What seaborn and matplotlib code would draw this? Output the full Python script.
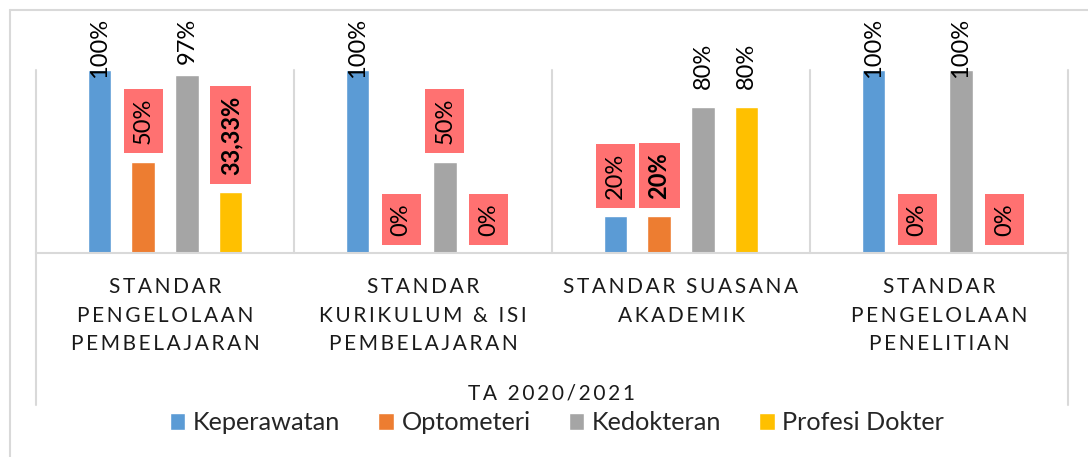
import numpy as np
import pandas as pd
import matplotlib
matplotlib.use("Agg")
import matplotlib.pyplot as plt
import matplotlib.transforms as mtransforms
from matplotlib.lines import Line2D
import seaborn as sns

# ---------------- data ----------------
categories = [
    "STANDAR\nPENGELOLAAN\nPEMBELAJARAN",
    "STANDAR\nKURIKULUM & ISI\nPEMBELAJARAN",
    "STANDAR SUASANA\nAKADEMIK",
    "STANDAR\nPENGELOLAAN\nPENELITIAN",
]
series_names = ["Keperawatan", "Optometeri", "Kedokteran", "Profesi Dokter"]
keperawatan = [100, 100, 20, 100]
optometeri = [50, 0, 20, 0]
kedokteran = [97, 50, 80, 100]
profesi_dokter = [33.33, 0, 80, 0]
axis_group_label = "TA 2020/2021"

# label styling (highlight box / bold), per series per category
highlight = [
    [False, False, True, False],
    [True, True, True, True],
    [False, True, False, False],
    [True, True, False, True],
]
bold = [
    [False, False, False, False],
    [False, False, True, False],
    [False, False, False, False],
    [True, False, False, False],
]

colors = ["#5B9BD5", "#ED7D31", "#A5A5A5", "#FFC000"]
box_color = "#FF7171"
grid_color = "#D9D9D9"

values = [keperawatan, optometeri, kedokteran, profesi_dokter]
df = pd.DataFrame({
    "standar": np.repeat([categories], len(series_names), axis=0).ravel(),
    "prodi": np.repeat(series_names, len(categories)),
    "nilai": np.concatenate(values),
})

sns.set_theme(style="white")
plt.rcParams["font.family"] = ["Lato", "DejaVu Sans"]

W, H = 1088, 457
fig = plt.figure(figsize=(W / 100, H / 100), dpi=100)
ax = fig.add_axes([36 / W, (H - 253) / H, (1068 - 36) / W, (253 - 70) / H])

sns.barplot(data=df, x="standar", y="nilai", hue="prodi", order=categories,
            hue_order=series_names, palette=colors, width=0.68, gap=0.47,
            saturation=1, ax=ax, errorbar=None)

handles, labels = ax.get_legend_handles_labels()
if ax.legend_ is not None:
    ax.legend_.remove()

ax.set_ylim(0, 100)
ax.set_xlim(-0.5, len(categories) - 0.5)
ax.set_yticks([])
ax.set_ylabel("")
ax.set_xlabel("")
for s in ["top", "left", "right"]:
    ax.spines[s].set_visible(False)
ax.spines["bottom"].set_color(grid_color)
ax.spines["bottom"].set_linewidth(1.5)


def spaced(s):
    return "\n".join("\u2009".join(line) for line in s.split("\n"))


ax.set_xticks(range(len(categories)))
ax.set_xticklabels([spaced(c) for c in categories], fontsize=15,
                   linespacing=1.52, color="#1a1a1a")
ax.tick_params(axis="x", length=0, pad=17.5)

# category separators (outer ones run down through the label area)
trans = mtransforms.blended_transform_factory(ax.transData, ax.transAxes)
bounds = np.arange(-0.5, len(categories), 1.0)
for i, b in enumerate(bounds):
    outer = i == 0 or i == len(bounds) - 1
    y0 = -(405 - 253) / 183 if outer else 0.0
    ax.add_line(Line2D([b, b], [1.0, y0], transform=trans,
                       color=grid_color, lw=1.5, clip_on=False))

# data labels
texts = []
for si, cont in enumerate(ax.containers):
    for ci, bar in enumerate(cont):
        v = values[si][ci]
        lab = (f"{v:.0f}%" if float(v).is_integer() else f"{v:.2f}".replace(".", ",") + "%")
        kw = {}
        if highlight[si][ci]:
            kw["bbox"] = dict(boxstyle="square,pad=0.38", fc=box_color, ec="none")
        t = ax.annotate(lab, xy=(bar.get_x() + bar.get_width() / 2, bar.get_height()),
                        xytext=(0, 12.5), textcoords="offset points",
                        rotation=90, ha="center", va="bottom", fontsize=17,
                        fontweight="bold" if bold[si][ci] else "normal",
                        color="black", annotation_clip=False, **kw)
        texts.append(t)

fig.canvas.draw()
renderer = fig.canvas.get_renderer()
limit = H - 18
for t in texts:
    bb = t.get_window_extent(renderer)
    if bb.y1 > limit:
        dx, dy = t.xyann
        t.xyann = (dx, dy - (bb.y1 - limit) * 72 / 100)

# group label
fig.text(551 / W, 1 - 393 / H, spaced(axis_group_label), ha="center", va="center",
         fontsize=15, color="#1a1a1a")

# legend
fig.legend(handles, labels, loc="center", bbox_to_anchor=(557 / W, 1 - 423 / H),
           ncol=4, frameon=False, fontsize=18.2, handlelength=0.62,
           handleheight=0.62, handletextpad=0.3, columnspacing=1.5,
           borderaxespad=0)

# outer chart border (top & left visible)
fig.add_artist(Line2D([10 / W, 10 / W], [0, 1 - 10 / H], transform=fig.transFigure,
                      color=grid_color, lw=1.5))
fig.add_artist(Line2D([10 / W, 1], [1 - 10 / H, 1 - 10 / H], transform=fig.transFigure,
                      color=grid_color, lw=1.5))

fig.savefig("out.png", dpi=100, facecolor="white")
